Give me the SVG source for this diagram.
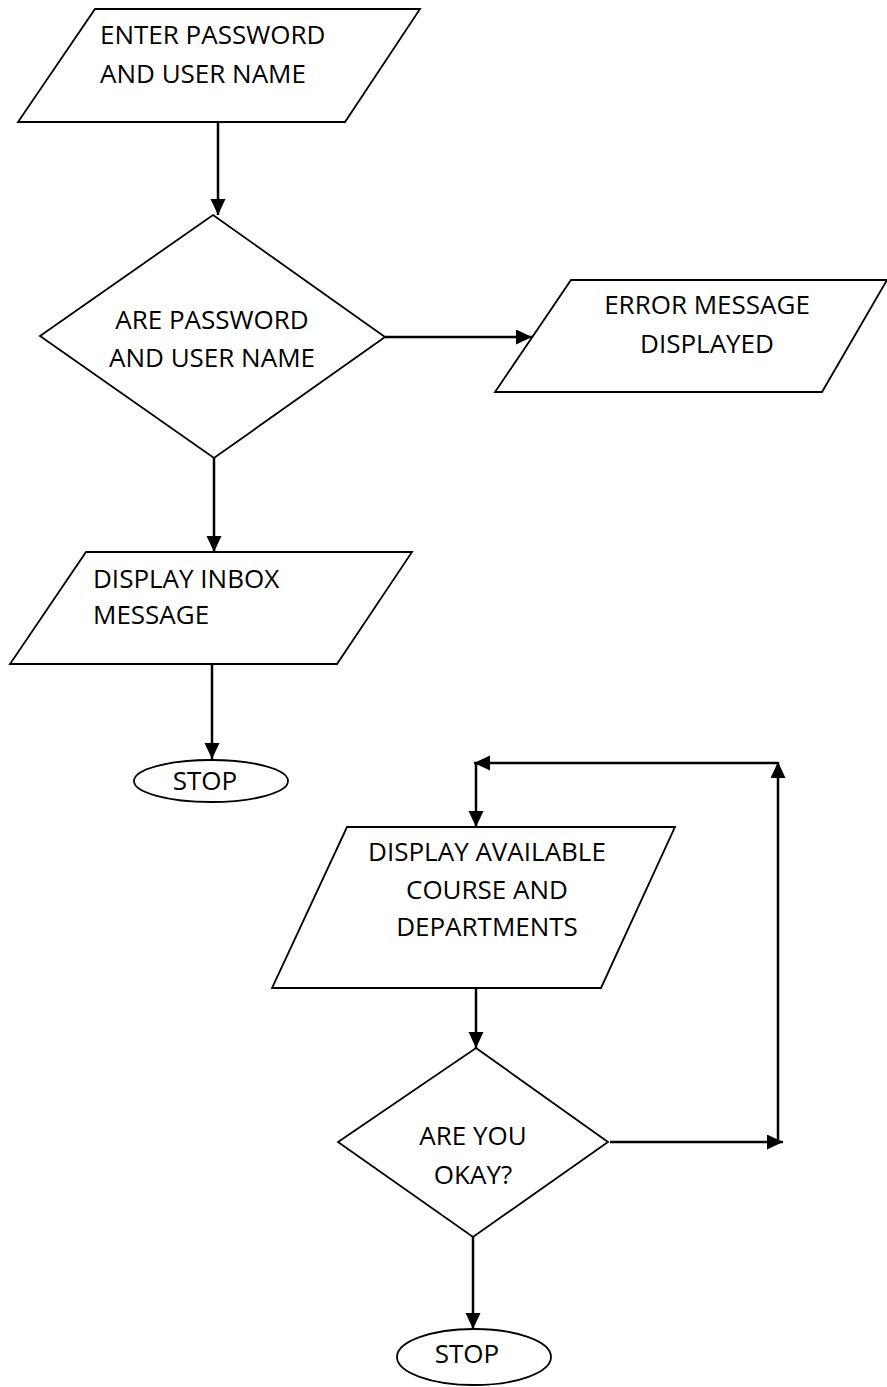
<svg xmlns="http://www.w3.org/2000/svg" width="887" height="1387" viewBox="0 0 887 1387">
<defs>
<style>
.shape{fill:#fff;stroke:#000;stroke-width:1.8}
.conn{fill:none;stroke:#000;stroke-width:2.5}
text{font-family:"Open Sans","Liberation Sans",sans-serif;font-size:26px;fill:#000}
.c{text-anchor:middle}
</style>
<marker id="arr" markerUnits="userSpaceOnUse" markerWidth="17" markerHeight="16" refX="16" refY="7.5" orient="auto">
<path d="M0,0 L16,7.5 L0,15 z" fill="#000"/>
</marker>
</defs>
<rect width="887" height="1387" fill="#fff"/>
<g id="connectors">
<line class="conn" x1="218" y1="122" x2="218" y2="215" marker-end="url(#arr)"/>
<line class="conn" x1="385" y1="337" x2="532" y2="337" marker-end="url(#arr)"/>
<line class="conn" x1="214" y1="458" x2="214" y2="552" marker-end="url(#arr)"/>
<line class="conn" x1="212" y1="664" x2="212" y2="759" marker-end="url(#arr)"/>
<line class="conn" x1="476" y1="988" x2="476" y2="1048" marker-end="url(#arr)"/>
<line class="conn" x1="610" y1="1142" x2="783" y2="1142" marker-end="url(#arr)"/>
<line class="conn" x1="778" y1="1142" x2="778" y2="762" marker-end="url(#arr)"/>
<line class="conn" x1="778" y1="763" x2="474" y2="763" marker-end="url(#arr)"/>
<line class="conn" x1="476" y1="764" x2="476" y2="827" marker-end="url(#arr)"/>
<line class="conn" x1="473" y1="1237" x2="473" y2="1329" marker-end="url(#arr)"/>
</g>
<g id="enter">
<polygon class="shape" points="95,9 420,9 345,122 18,122"/>
<text x="100" y="44">ENTER PASSWORD</text>
<text x="100" y="83">AND USER NAME</text>
</g>
<g id="check">
<polygon class="shape" points="213,215 385,337 214,458 40,336"/>
<text class="c" x="212" y="329">ARE PASSWORD</text>
<text class="c" x="212" y="367">AND USER NAME</text>
</g>
<g id="error">
<polygon class="shape" points="571,280 887,280 822,392 495,392"/>
<text class="c" x="707" y="314">ERROR MESSAGE</text>
<text class="c" x="707" y="353">DISPLAYED</text>
</g>
<g id="inbox">
<polygon class="shape" points="86,552 412,552 337,664 10,664"/>
<text x="93" y="588">DISPLAY INBOX</text>
<text x="93" y="624">MESSAGE</text>
</g>
<g id="stop1">
<ellipse class="shape" cx="211" cy="781" rx="77" ry="21"/>
<text class="c" x="205" y="790">STOP</text>
</g>
<g id="courses">
<polygon class="shape" points="347,827 675,827 601,988 272,988"/>
<text class="c" x="487" y="861">DISPLAY AVAILABLE</text>
<text class="c" x="487" y="899">COURSE AND</text>
<text class="c" x="487" y="936">DEPARTMENTS</text>
</g>
<g id="okay">
<polygon class="shape" points="476,1048 608,1142 473,1237 338,1142"/>
<text class="c" x="473" y="1145">ARE YOU</text>
<text class="c" x="473" y="1184">OKAY?</text>
</g>
<g id="stop2">
<ellipse class="shape" cx="474" cy="1357" rx="77" ry="28"/>
<text class="c" x="467" y="1363">STOP</text>
</g>
</svg>
